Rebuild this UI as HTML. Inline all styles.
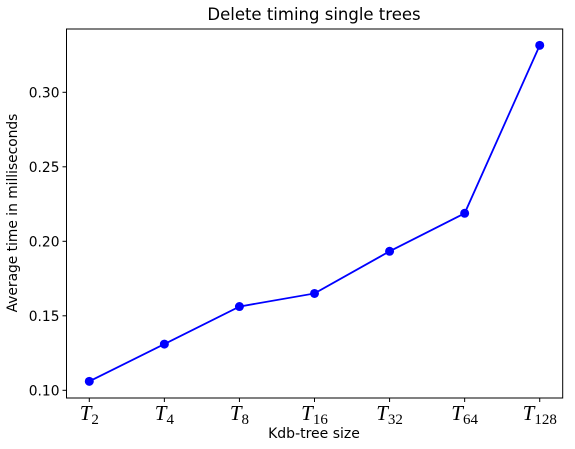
<!DOCTYPE html>
<html><head><meta charset="utf-8"><style>
body{margin:0;background:#fff;}
svg text{font-family:"DejaVu Sans","Liberation Sans",sans-serif;}
</style></head><body>
<svg width="575" height="444" viewBox="0 0 575 444" xmlns="http://www.w3.org/2000/svg">
<rect width="575" height="444" fill="#fff"/>
<g id="g"></g>
</svg>
<script>
const categories=["2","4","8","16","32","64","128"];
const values=[0.106,0.131,0.1562,0.165,0.1933,0.2188,0.3315];
const yTicks=[0.10,0.15,0.20,0.25,0.30];
const yTickLabels=["0.10","0.15","0.20","0.25","0.30"];
const L=66.5,R=562.7,T=29,B=398;
const NS="http://www.w3.org/2000/svg";
const g=document.getElementById('g');
function xs(i){return 89.3+i*75.07;}
function ys(v){return 390.3-(v-0.10)*1490;}
function mk(t,a,txt){const e=document.createElementNS(NS,t);for(const k in a)e.setAttribute(k,a[k]);if(txt!==undefined)e.textContent=txt;g.appendChild(e);return e;}
let e;
e=mk('text',{x:314,y:20,'text-anchor':'middle','font-size':'16.5',fill:'#000'},'Delete timing single trees');


yTicks.forEach((v,i)=>{
 const y=ys(v);
 e=mk('line',{x1:L-4,x2:L,y1:y,y2:y,stroke:'#000','stroke-width':1});
 
 
 e=mk('text',{x:L-7,y:y+5,'text-anchor':'end','font-size':'13.8',fill:'#000'},yTickLabels[i]);
 
 
});
categories.forEach((c,i)=>{
 const x=xs(i);
 e=mk('line',{x1:x,x2:x,y1:B,y2:B+4,stroke:'#000','stroke-width':1});
 
 
 e=mk('text',{x:x,y:B+22,'text-anchor':'middle',fill:'#000'});
 
 
 const t1=document.createElementNS(NS,'tspan');t1.setAttribute('font-family','Liberation Serif, serif');t1.setAttribute('font-style','italic');t1.setAttribute('font-size','21');t1.textContent='T';e.appendChild(t1);
 const t2=document.createElementNS(NS,'tspan');t2.setAttribute('font-family','Liberation Serif, serif');t2.setAttribute('font-size','15');t2.setAttribute('dy','4');t2.textContent=c;e.appendChild(t2);
});
e=mk('text',{x:314,y:438,'text-anchor':'middle','font-size':'14',fill:'#000'},'Kdb-tree size');


e=mk('text',{x:0,y:0,'text-anchor':'middle','font-size':'13.8',fill:'#000',transform:'translate(17,213) rotate(-90)'},'Average time in milliseconds');


e=mk('polyline',{points:values.map((v,i)=>xs(i)+','+ys(v)).join(' '),fill:'none',stroke:'#0000ff','stroke-width':1.8});


values.forEach((v,i)=>{
 e=mk('circle',{cx:xs(i),cy:ys(v),r:4.5,fill:'#0000ff'});
 
 
});
e=mk('rect',{x:L,y:T,width:R-L,height:B-T,fill:'none',stroke:'#000','stroke-width':1});


</script>
</body></html>
